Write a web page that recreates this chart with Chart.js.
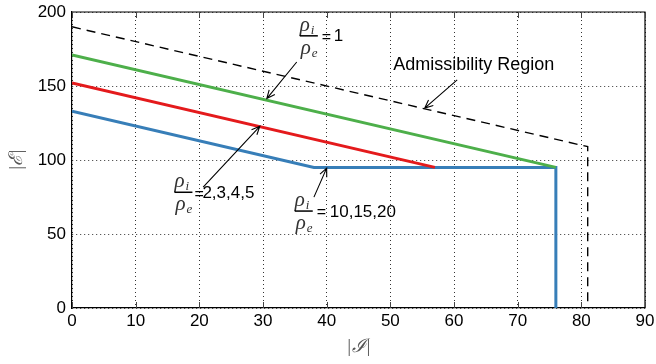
<!DOCTYPE html>
<html>
<head>
<meta charset="utf-8">
<script src="https://cdn.jsdelivr.net/npm/chart.js@4.4.0/dist/chart.umd.min.js"></script>
<style>
  html, body { margin: 0; padding: 0; background: #fff; }
  #wrap { width: 656px; height: 364px; }
</style>
</head>
<body>
<div id="wrap"><canvas id="chart" width="656" height="364"></canvas></div>
<script>
// Boundary curves
const admissX = [0, 81, 81];
const admissY = [190, 109, 0];
const ratio1X = [0, 76];
const ratio1Y = [171, 95];
const ratio2X = [0, 57];
const ratio2Y = [152, 95];
const ratio10X = [0, 38, 76, 76];
const ratio10Y = [133, 95, 95, 0];

const xTicks = [0, 10, 20, 30, 40, 50, 60, 70, 80, 90];
const yTicks = [0, 50, 100, 150, 200];

const SANS = '"Liberation Sans", Arial, Helvetica, sans-serif';
const SERIF = '"Liberation Serif", "DejaVu Serif", serif';

function pts(xs, ys) {
    return xs.map((x, i) => ({ x: x, y: ys[i] }));
}

function line(label, xs, ys, color, width, dash) {
    return {
        label: label,
        data: pts(xs, ys),
        showLine: true,
        borderColor: color,
        backgroundColor: color,
        borderWidth: width,
        borderDash: dash || [],
        pointRadius: 0,
        fill: false,
        tension: 0
    };
}

// Draws rho_i / rho_e = rhs, centred on the fraction bar
function drawFrac(ctx, cx, by, rhs, eqOff, rhsOff) {
    ctx.save();
    ctx.fillStyle = '#333';
    ctx.textBaseline = 'alphabetic';
    ctx.textAlign = 'left';
    // numerator
    ctx.font = 'italic 21px ' + SERIF;
    ctx.fillText('\u03c1', cx - 9, by - 5);
    ctx.font = 'italic 13px ' + SERIF;
    ctx.fillText('i', cx + 2, by - 2);
    // denominator
    ctx.font = 'italic 21px ' + SERIF;
    ctx.fillText('\u03c1', cx - 8, by + 18);
    ctx.font = 'italic 13px ' + SERIF;
    ctx.fillText('e', cx + 3, by + 21);
    // bar
    ctx.fillStyle = '#000';
    ctx.fillRect(cx - 9, by - 0.6, 18, 1.5);
    // = rhs
    ctx.font = '16px ' + SANS;
    ctx.textBaseline = 'middle';
    ctx.fillText('=', cx + eqOff, by + 2);
    ctx.font = '17px ' + SANS;
    ctx.fillText(rhs, cx + rhsOff, by + 1);
    ctx.restore();
}

function drawArrow(ctx, x1, y1, x2, y2) {
    const a = Math.atan2(y2 - y1, x2 - x1);
    const h = 9, w = 0.42;
    ctx.save();
    ctx.strokeStyle = '#000';
    ctx.lineWidth = 1.1;
    ctx.beginPath();
    ctx.moveTo(x1, y1);
    ctx.lineTo(x2, y2);
    ctx.moveTo(x2 - h * Math.cos(a - w), y2 - h * Math.sin(a - w));
    ctx.lineTo(x2, y2);
    ctx.lineTo(x2 - h * Math.cos(a + w), y2 - h * Math.sin(a + w));
    ctx.stroke();
    ctx.restore();
}

const annotations = {
    id: 'annotations',
    afterDatasetsDraw(chart) {
        const ctx = chart.ctx;
        const xs = chart.scales.x, ys = chart.scales.y;
        const area = chart.chartArea;
        const X = v => xs.getPixelForValue(v);
        const Y = v => ys.getPixelForValue(v);

        // box: top and right borders, inner ticks on top and bottom
        ctx.save();
        ctx.strokeStyle = '#000';
        ctx.lineWidth = 1.2;
        ctx.beginPath();
        ctx.moveTo(area.left, area.top);
        ctx.lineTo(area.right, area.top);
        ctx.lineTo(area.right, area.bottom);
        ctx.stroke();
        ctx.strokeStyle = '#444';
        ctx.lineWidth = 1;
        ctx.beginPath();
        xTicks.forEach(t => {
            const px = Math.round(X(t)) + 0.5;
            ctx.moveTo(px, area.top);
            ctx.lineTo(px, area.top + 6);
            ctx.moveTo(px, area.bottom);
            ctx.lineTo(px, area.bottom - 6);
        });
        ctx.stroke();
        ctx.restore();

        // labels and arrows
        drawFrac(ctx, X(37.2), Y(184), '1', 13, 25);
        drawArrow(ctx, X(35.3), Y(166.2), X(30.6), Y(141.5));

        ctx.save();
        ctx.font = '18px ' + SANS;
        ctx.fillStyle = '#000';
        ctx.textAlign = 'center';
        ctx.textBaseline = 'middle';
        ctx.fillText('Admissibility Region', X(63.1), Y(164));
        ctx.restore();
        drawArrow(ctx, X(60.5), Y(154.1), X(55.4), Y(135.1));

        drawFrac(ctx, X(17.5), Y(78.3), '2,3,4,5', 11, 19);
        drawArrow(ctx, X(20.6), Y(81.7), X(29.5), Y(122.8));

        drawFrac(ctx, X(36.4), Y(65.6), '10,15,20', 13, 26);
        drawArrow(ctx, X(38.0), Y(74.9), X(40.0), Y(94.5));

        // axis titles
        ctx.save();
        ctx.fillStyle = '#555';
        ctx.textAlign = 'center';
        ctx.textBaseline = 'middle';
        ctx.font = 'italic 19px ' + SERIF;
        ctx.fillText('|\u2110|', (area.left + area.right) / 2, 347);
        ctx.translate(17, (area.top + area.bottom) / 2);
        ctx.rotate(-Math.PI / 2);
        ctx.fillText('|\u2130|', 0, 0);
        ctx.restore();
    }
};

const gridStyle = {
    color: '#333',
    lineWidth: 1,
    drawTicks: false
};

new Chart(document.getElementById('chart'), {
    type: 'scatter',
    data: {
        datasets: [
            line('Admissibility Region', admissX, admissY, '#000', 1.4, [9, 6]),
            line('rho_i/rho_e = 1', ratio1X, ratio1Y, '#4daf4a', 3),
            line('rho_i/rho_e = 2,3,4,5', ratio2X, ratio2Y, '#e41a1c', 3),
            line('rho_i/rho_e = 10,15,20', ratio10X, ratio10Y, '#377eb8', 3)
        ]
    },
    options: {
        responsive: false,
        animation: false,
        layout: { padding: { top: 12, right: 11, left: 0, bottom: 0 } },
        plugins: {
            legend: { display: false },
            tooltip: { enabled: false }
        },
        scales: {
            x: {
                type: 'linear',
                min: 0,
                max: 90,
                afterBuildTicks: s => { s.ticks = xTicks.map(v => ({ value: v })); },
                afterFit: s => {
                    s.height = 56;
                    s.paddingLeft = 0;
                    s.paddingRight = 0;
                },
                ticks: {
                    color: '#000',
                    font: { family: SANS, size: 17 },
                    padding: 3,
                    maxRotation: 0
                },
                grid: gridStyle,
                border: { display: true, color: '#000', width: 1.2, dash: [1, 3] },
            },
            y: {
                type: 'linear',
                min: 0,
                max: 200,
                afterBuildTicks: s => { s.ticks = yTicks.map(v => ({ value: v })); },
                afterFit: s => {
                    s.width = 72;
                    s.paddingTop = 0;
                    s.paddingBottom = 0;
                },
                ticks: {
                    color: '#000',
                    font: { family: SANS, size: 17 },
                    padding: 6
                },
                grid: gridStyle,
                border: { display: true, color: '#000', width: 1.2, dash: [1, 3] }
            }
        }
    },
    plugins: [annotations]
});
</script>
</body>
</html>
